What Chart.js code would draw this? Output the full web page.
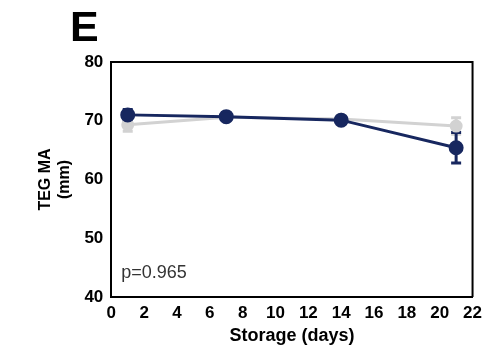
<!DOCTYPE html>
<html><head><meta charset="utf-8">
<script src="https://cdn.jsdelivr.net/npm/chart.js@4.4.1/dist/chart.umd.min.js"></script>
<style>html,body{margin:0;padding:0;background:#fff}#wrap{width:482px;height:348px}</style>
</head><body><div id="wrap"><canvas id="c" width="482" height="348"></canvas></div>
<script>
const days = [1, 7, 14, 21];
const navyMean = [71.0, 70.7, 70.1, 65.4];
const navyErr = [0.9, 0, 0, 2.6];
const grayMean = [69.3, 70.6, 70.3, 69.1];
const grayErr = [1.1, 0, 0, 1.4];
const xTicks = [0,2,4,6,8,10,12,14,16,18,20,22];
const yTicks = [40,50,60,70,80];
const panelLabel = 'E';
const pText = 'p=0.965';

const NAVY = '#17275f', GRAY = '#d2d2d2';
const FONT = "'Liberation Sans', Arial, sans-serif";

const overlay = {
  id: 'overlay',
  beforeDatasetsDraw(chart) {
    const ctx = chart.ctx, xs = chart.scales.x, ys = chart.scales.y;
    const sets = [[grayMean, grayErr, GRAY], [navyMean, navyErr, NAVY]];
    ctx.save();
    sets.forEach(([m, e, col]) => {
      ctx.strokeStyle = col; ctx.lineWidth = 3;
      days.forEach((d, i) => {
        if (!e[i]) return;
        const x = xs.getPixelForValue(d);
        const yt = ys.getPixelForValue(m[i] + e[i]);
        const yb = ys.getPixelForValue(m[i] - e[i]);
        ctx.beginPath();
        ctx.moveTo(x, yt); ctx.lineTo(x, yb);
        ctx.moveTo(x - 5, yt); ctx.lineTo(x + 5, yt);
        ctx.moveTo(x - 5, yb); ctx.lineTo(x + 5, yb);
        ctx.stroke();
      });
    });
    ctx.restore();
  },
  afterDraw(chart) {
    const ctx = chart.ctx, a = chart.chartArea;
    ctx.save();
    ctx.strokeStyle = '#000'; ctx.lineWidth = 2;
    ctx.beginPath();
    ctx.moveTo(a.left, a.top); ctx.lineTo(a.right, a.top); ctx.lineTo(a.right, a.bottom);
    ctx.stroke();
    ctx.fillStyle = '#000';
    ctx.font = "bold 43px " + FONT;
    ctx.textBaseline = 'alphabetic';
    ctx.fillText(panelLabel, 70, 41);
    ctx.font = "18px " + FONT;
    ctx.fillStyle = '#333';
    ctx.fillText(pText, a.left + 10, a.bottom - 19);
    ctx.restore();
  }
};

new Chart(document.getElementById('c'), {
  type: 'line',
  data: {
    datasets: [
      { label: 'B', data: days.map((d,i)=>({x:d,y:navyMean[i]})), borderColor: NAVY, backgroundColor: NAVY,
        borderWidth: 3, pointRadius: 6, pointHoverRadius: 6, order: 0 },
      { label: 'A', data: days.map((d,i)=>({x:d,y:grayMean[i]})), borderColor: GRAY, backgroundColor: GRAY,
        borderWidth: 3, pointRadius: 5, pointHoverRadius: 5, order: 1 }
    ]
  },
  options: {
    responsive: false, animation: false,
    layout: { padding: { top: 62, right: 8, left: 36, bottom: 1 } },
    plugins: { legend: { display: false }, tooltip: { enabled: false } },
    scales: {
      x: { type: 'linear', min: 0, max: 22,
        afterBuildTicks: s => { s.ticks = xTicks.map(v => ({ value: v })); },
        grid: { display: false, drawOnChartArea: false, drawTicks: true, tickLength: 6, tickWidth: 2, tickColor: '#000' },
        border: { display: true, color: '#000', width: 2 },
        ticks: { color: '#000', font: { family: FONT, size: 17, weight: 'bold' }, padding: 0, maxRotation: 0, autoSkip: false },
        title: { display: true, text: 'Storage (days)', color: '#000', font: { family: FONT, size: 18, weight: 'bold' }, padding: { top: 2, bottom: 0 } }
      },
      y: { min: 40, max: 80,
        afterBuildTicks: s => { s.ticks = yTicks.map(v => ({ value: v })); },
        grid: { display: false, drawOnChartArea: false, drawTicks: true, tickLength: 6, tickWidth: 2, tickColor: '#000' },
        border: { display: true, color: '#000', width: 2 },
        ticks: { color: '#000', font: { family: FONT, size: 17, weight: 'bold' }, padding: 2 },
        title: { display: true, text: ['TEG MA', '(mm)'], color: '#000', font: { family: FONT, size: 16, weight: 'bold' }, padding: { top: 0, bottom: 8 } }
      }
    }
  },
  plugins: [overlay]
});
</script></body></html>
